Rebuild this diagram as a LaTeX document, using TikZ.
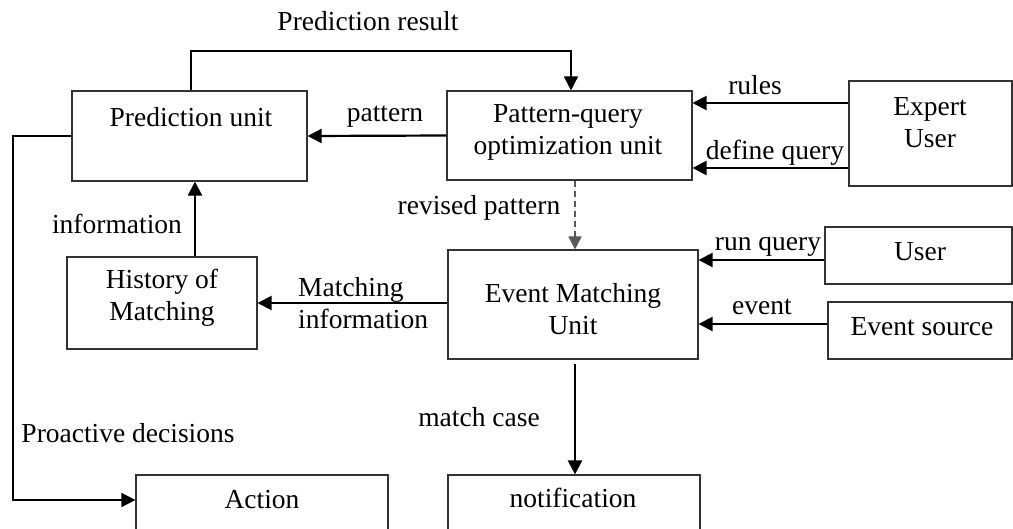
\documentclass[tikz,border=0pt]{standalone}
\usepackage{fontspec}
\setmainfont{Liberation Serif}
\usetikzlibrary{arrows.meta}
\begin{document}
\begin{tikzpicture}[x=1pt,y=-1pt,
  box/.style={draw=black!80, line width=1.1pt, inner sep=0pt},
  lbl/.style={inner sep=0pt, font=\fontsize{27.5}{32}\selectfont, align=center},
  arr/.style={line width=2.2pt, -{Triangle[length=14pt,width=14pt]}},
  plain/.style={line width=1.5pt},
  dsh/.style={line width=1.5pt, draw=black!65, dash pattern=on 6pt off 4pt, -{Triangle[length=13pt,width=13pt]}, fill=black!65}]
\useasboundingbox (0,0) rectangle (1013,528);
\clip (0,0) rectangle (1013,528);
% boxes
\node[box, minimum width=235pt, minimum height=90pt] (pred) at (189.5,136) {};
\node[box, minimum width=245pt, minimum height=89pt] (pq) at (569.5,135.5) {};
\node[box, minimum width=163pt, minimum height=105pt] (expert) at (930.5,133.5) {};
\node[box, minimum width=187pt, minimum height=57pt] (user) at (918.5,255.5) {};
\node[box, minimum width=184pt, minimum height=57pt] (evsrc) at (920,330.5) {};
\node[box, minimum width=250pt, minimum height=109pt] (em) at (573,304.5) {};
\node[box, minimum width=190pt, minimum height=92pt] (hist) at (162,303) {};
\node[box, minimum width=252pt, minimum height=65pt] (action) at (262,507.5) {};
\node[box, minimum width=252pt, minimum height=65pt] (notif) at (574,507.5) {};
% box texts
\node[lbl] (tpred) at (191,117) {Prediction unit};
\node[lbl] (tpq) at (568,132) {Pattern-query\\optimization unit};
\node[lbl] (texp) at (930,123) {Expert\\User};
\node[lbl] (tuser) at (920,252) {User};
\node[lbl] (tev) at (922,327) {Event source};
\node[lbl] (tem) at (573,309) {Event Matching\\Unit};
\node[lbl] (thist) at (162,298) {History of\\Matching};
\node[lbl] (tact) at (262,500) {Action};
\node[lbl] (tnot) at (573,498) {notification};
% connector labels
\node[lbl] (lpr) at (368,21) {Prediction result};
\node[lbl] (lpat) at (385,117) {pattern};
\node[lbl] (lrules) at (755,85) {rules};
\node[lbl] (ldef) at (775,153) {define query};
\node[lbl] (lrev) at (479,208) {revised pattern};
\node[lbl] (linfo) at (117,224) {information};
\node[lbl] (lrun) at (768,247) {run query};
\node[lbl] (lev) at (762,307) {event};
\node[lbl, anchor=west, align=left] (lmi) at (298,303) {Matching\\information};
\node[lbl] (lmc) at (479,417) {match case};
\node[lbl] (lpro) at (128,433) {Proactive decisions};
% connectors
\draw[plain, -{Triangle[length=14pt,width=14pt]}] (pred.north -| 191,0) |- (571,51) -- (pq.north -| 571,0);
\draw[arr] (pq.west) -- (pred.east);
\draw[arr] (expert.west |- 0,103) -- (pq.east |- 0,103);
\draw[arr] (expert.west |- 0,168) -- (pq.east |- 0,168);
\draw[dsh] (pq.south -| 575,0) -- (em.north -| 575,0);
\draw[arr] (user.west |- 0,260) -- (em.east |- 0,260);
\draw[arr] (evsrc.west |- 0,324) -- (em.east |- 0,324);
\draw[arr] (em.west |- 0,303) -- (hist.east |- 0,303);
\draw[arr] (hist.north -| 195,0) -- (pred.south -| 195,0);
\draw[arr] (em.south -| 575,0) ++(0,4) -- (notif.north -| 575,0);
\draw[plain, -{Triangle[length=14pt,width=14pt]}] (pred.west) -- (13,136) |- (action.west |- 0,500);
\end{tikzpicture}
\end{document}
